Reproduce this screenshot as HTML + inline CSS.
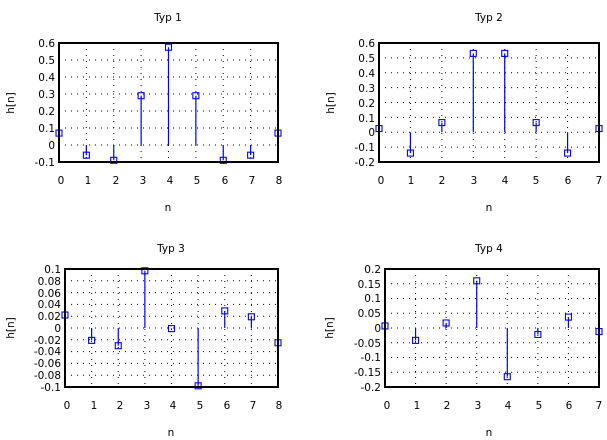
<!DOCTYPE html>
<html><head><meta charset="utf-8"><style>
html,body{margin:0;padding:0;background:#fff;}
svg{display:block;}
text{font-family:"DejaVu Sans","Liberation Sans",sans-serif;font-size:10.5px;fill:#000;}
</style></head><body>
<svg id="s" width="607" height="440" xmlns="http://www.w3.org/2000/svg">
<g id="g"></g>
<!-- Plot 1 -->
<text x="168" y="21" text-anchor="middle">Typ 1</text>
<g text-anchor="end">
<text x="55" y="47">0.6</text><text x="55" y="64">0.5</text><text x="55" y="81">0.4</text><text x="55" y="98">0.3</text><text x="55" y="115">0.2</text><text x="55" y="132">0.1</text><text x="55" y="149">0</text><text x="55" y="166">-0.1</text>
</g>
<g text-anchor="middle">
<text x="61" y="184">0</text><text x="88" y="184">1</text><text x="116" y="184">2</text><text x="143" y="184">3</text><text x="170" y="184">4</text><text x="197" y="184">5</text><text x="225" y="184">6</text><text x="252" y="184">7</text><text x="279" y="184">8</text>
<text x="168" y="211">n</text>
</g>
<text x="0" y="0" text-anchor="middle" transform="translate(14,103) rotate(-90)">h[n]</text>
<!-- Plot 2 -->
<text x="489" y="21" text-anchor="middle">Typ 2</text>
<g text-anchor="end">
<text x="375" y="47">0.6</text><text x="375" y="62">0.5</text><text x="375" y="77">0.4</text><text x="375" y="92">0.3</text><text x="375" y="107">0.2</text><text x="375" y="122">0.1</text><text x="375" y="136">0</text><text x="375" y="151">-0.1</text><text x="375" y="166">-0.2</text>
</g>
<g text-anchor="middle">
<text x="381" y="184">0</text><text x="411" y="184">1</text><text x="442" y="184">2</text><text x="474" y="184">3</text><text x="505" y="184">4</text><text x="536" y="184">5</text><text x="568" y="184">6</text><text x="599" y="184">7</text>
<text x="489" y="211">n</text>
</g>
<text x="0" y="0" text-anchor="middle" transform="translate(334,103) rotate(-90)">h[n]</text>
<!-- Plot 3 -->
<text x="171" y="252" text-anchor="middle">Typ 3</text>
<g text-anchor="end">
<text x="61" y="273">0.1</text><text x="61" y="285">0.08</text><text x="61" y="297">0.06</text><text x="61" y="308">0.04</text><text x="61" y="320">0.02</text><text x="61" y="332">0</text><text x="61" y="344">-0.02</text><text x="61" y="355">-0.04</text><text x="61" y="367">-0.06</text><text x="61" y="379">-0.08</text><text x="61" y="391">-0.1</text>
</g>
<g text-anchor="middle">
<text x="67" y="409">0</text><text x="94" y="409">1</text><text x="120" y="409">2</text><text x="147" y="409">3</text><text x="173" y="409">4</text><text x="200" y="409">5</text><text x="227" y="409">6</text><text x="253" y="409">7</text><text x="279" y="409">8</text>
<text x="171" y="436">n</text>
</g>
<text x="0" y="0" text-anchor="middle" transform="translate(14,328) rotate(-90)">h[n]</text>
<!-- Plot 4 -->
<text x="489" y="252" text-anchor="middle">Typ 4</text>
<g text-anchor="end">
<text x="381" y="273">0.2</text><text x="381" y="288">0.15</text><text x="381" y="302">0.1</text><text x="381" y="317">0.05</text><text x="381" y="332">0</text><text x="381" y="347">-0.05</text><text x="381" y="361">-0.1</text><text x="381" y="376">-0.15</text><text x="381" y="391">-0.2</text>
</g>
<g text-anchor="middle">
<text x="387" y="409">0</text><text x="417" y="409">1</text><text x="447" y="409">2</text><text x="478" y="409">3</text><text x="508" y="409">4</text><text x="539" y="409">5</text><text x="569" y="409">6</text><text x="599" y="409">7</text>
<text x="489" y="436">n</text>
</g>
<text x="0" y="0" text-anchor="middle" transform="translate(333,328) rotate(-90)">h[n]</text>
</svg>
<script>
var NS="http://www.w3.org/2000/svg",G=document.getElementById("g");
function el(t,a){var e=document.createElementNS(NS,t);for(var k in a)e.setAttribute(k,a[k]);G.appendChild(e);}
var P=[
{x0:59,x1:278,y0:43,y1:162,ymin:-0.1,ymax:0.6,yt:0.1,n:8,d:[0.07,-0.06,-0.09,0.29,0.575,0.29,-0.09,-0.06,0.07]},
{x0:379,x1:599,y0:43,y1:162,ymin:-0.2,ymax:0.6,yt:0.1,n:7,d:[0.025,-0.14,0.065,0.53,0.53,0.065,-0.14,0.025]},
{x0:65,x1:278,y0:269,y1:387,ymin:-0.1,ymax:0.1,yt:0.02,n:8,d:[0.022,-0.021,-0.03,0.097,-0.001,-0.098,0.029,0.019,-0.025]},
{x0:385,x1:599,y0:269,y1:387,ymin:-0.2,ymax:0.2,yt:0.05,n:7,d:[0.007,-0.042,0.017,0.16,-0.165,-0.022,0.037,-0.012]}];
P.forEach(function(p){
 function X(i){return p.x0+(p.x1-p.x0)*i/p.n;}
 function Y(v){return p.y1-(p.y1-p.y0)*(v-p.ymin)/(p.ymax-p.ymin);}
 var nt=Math.round((p.ymax-p.ymin)/p.yt);
 for(var j=1;j<nt;j++){var y=p.y1-(p.y1-p.y0)*j/nt;el("line",{x1:p.x0,x2:p.x1,y1:y,y2:y,stroke:"#000","stroke-width":1,"stroke-dasharray":"1,5"});}
 for(var i=1;i<p.n;i++){el("line",{x1:X(i),x2:X(i),y1:p.y0,y2:p.y1,stroke:"#000","stroke-width":1,"stroke-dasharray":"1,5"});}
 var y0=Y(0);
 p.d.forEach(function(v,i){var x=X(i),y=Y(v);
  el("line",{x1:x,x2:x,y1:y0,y2:y,stroke:"#0000ff","stroke-width":1.2});
  el("rect",{x:x-3,y:y-3,width:6,height:6,fill:"none",stroke:"#0000ff","stroke-width":1.1});});
 el("rect",{x:p.x0,y:p.y0,width:p.x1-p.x0,height:p.y1-p.y0,fill:"none",stroke:"#000","stroke-width":2});
});
</script>
</body></html>
